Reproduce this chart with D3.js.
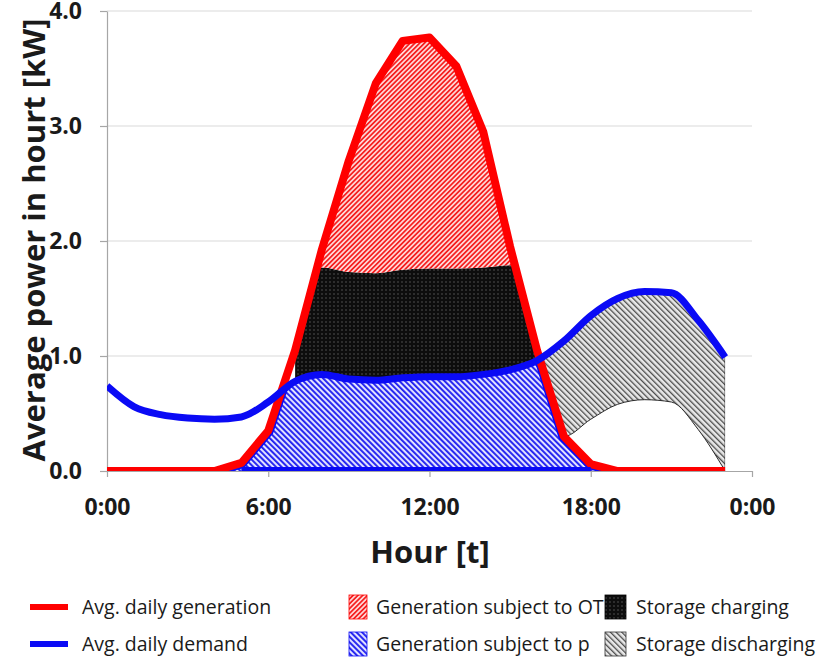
<!DOCTYPE html>
<html>
<head>
<meta charset="utf-8">
<script src="https://cdn.jsdelivr.net/npm/d3@7"></script>
<style>
  html, body { margin: 0; padding: 0; background: #fff; }
  svg { display: block; }
  text { font-family: "Open Sans", "DejaVu Sans", sans-serif; fill: #1a1a1a; }
</style>
</head>
<body>
<svg id="chart" width="830" height="664"></svg>
<script>
// Hour of day for each sample
const hours = [0, 1, 2, 3, 4, 5, 6, 7, 8, 9, 10, 11, 12, 13, 14, 15, 16, 17, 18, 19, 20, 21, 22, 23];
// Average daily PV generation [kW]
const generation = [0, 0, 0, 0, 0, 0.07, 0.35, 1.05, 1.93, 2.70, 3.37, 3.74, 3.77, 3.52, 2.95, 1.95, 1.05, 0.30, 0.06, 0, 0, 0, 0, 0];
// Average daily household demand [kW]
const demand = [0.74, 0.56, 0.49, 0.46, 0.45, 0.47, 0.60, 0.78, 0.84, 0.80, 0.79, 0.81, 0.82, 0.82, 0.84, 0.88, 0.96, 1.13, 1.35, 1.50, 1.56, 1.55, 1.31, 0.99];
// Upper edge of storage charging (above it generation is subject to OT), hours 7-16
const chargeHours = [7, 8, 9, 10, 11, 12, 13, 14, 15, 16];
const chargeTop = [1.77, 1.77, 1.73, 1.72, 1.75, 1.76, 1.76, 1.77, 1.79, 1.79];
// Storage discharge [kW], hours 16-23
const dischargeHours = [16, 17, 18, 19, 20, 21, 22, 23];
const discharge = [0, 0.83, 0.90, 0.92, 0.94, 0.95, 0.95, 0.99];

const yTicks = [0, 1, 2, 3, 4];
const xTicks = [0, 6, 12, 18, 24];
const xTickLabels = ["0:00", "6:00", "12:00", "18:00", "0:00"];

const lineLabels = ["Avg. daily generation", "Avg. daily demand"];
const areaLabels = ["Generation subject to OT", "Generation subject to p", "Storage charging", "Storage discharging"];

const svg = d3.select("#chart");
const x = d3.scaleLinear().domain([0, 24]).range([107, 752]);
const y = d3.scaleLinear().domain([0, 4]).range([471, 11]);

const RED = "#ff0000", BLUE = "#0a0af5";

// ---------- fill patterns ----------
const defs = svg.append("defs");
function stripes(id, angle, period, bg, fg, w) {
  const p = defs.append("pattern").attr("id", id)
    .attr("patternUnits", "userSpaceOnUse").attr("width", period).attr("height", period)
    .attr("patternTransform", `rotate(${angle})`);
  p.append("rect").attr("width", period).attr("height", period).attr("fill", bg);
  p.append("rect").attr("width", w).attr("height", period).attr("fill", fg);
}
stripes("pat-ot", 45, 3.4, "#ffd6d6", "#f52020", 1.7);
stripes("pat-p", -45, 4, "#e2e2ff", "#2020f0", 1.9);
stripes("pat-dis", -45, 4, "#e8e8e8", "#4a4a4a", 1.3);
(function () {
  const p = defs.append("pattern").attr("id", "pat-chg")
    .attr("patternUnits", "userSpaceOnUse").attr("width", 4).attr("height", 4);
  p.append("rect").attr("width", 4).attr("height", 4).attr("fill", "#0d0d0d");
  p.append("rect").attr("x", 1.5).attr("y", 1.5).attr("width", 1).attr("height", 1).attr("fill", "#8a8a8a");
})();

// ---------- geometry helpers ----------
const genPts = hours.map((h, i) => ({ h, v: generation[i] }));
const demPts = hours.map((h, i) => ({ h, v: demand[i] }));
const demAt = h => demand[hours.indexOf(h)];

const genLine = d3.line().x(d => x(d.h)).y(d => y(d.v));
const demLine = d3.line().x(d => x(d.h)).y(d => y(d.v)).curve(d3.curveMonotoneX);

// clip: region under the generation curve, region above it, region under demand, plot box
defs.append("clipPath").attr("id", "under-gen").append("path")
  .attr("d", d3.area().x(d => x(d.h)).y0(y(0)).y1(d => y(d.v))(genPts));
defs.append("clipPath").attr("id", "above-gen").append("path")
  .attr("d", d3.area().x(d => x(d.h)).y0(y(4)).y1(d => y(d.v))(genPts));
defs.append("clipPath").attr("id", "under-dem").append("path")
  .attr("d", d3.area().x(d => x(d.h)).y0(y(0)).y1(d => y(d.v)).curve(d3.curveMonotoneX)(demPts));
defs.append("clipPath").attr("id", "plot-box").append("rect")
  .attr("x", x(0)).attr("y", 0).attr("width", x(24) - x(0)).attr("height", y(0));

// ---------- gridlines & axes ----------
svg.append("g").selectAll("line").data(yTicks.filter(t => t > 0)).join("line")
  .attr("x1", x(0)).attr("x2", x(24)).attr("y1", d => y(d)).attr("y2", d => y(d))
  .attr("stroke", "#d9d9d9").attr("stroke-width", 1.2);

const yAxis = svg.append("g").attr("transform", `translate(${x(0)},0)`)
  .call(d3.axisLeft(y).tickValues(yTicks).tickFormat(d3.format(".1f")).tickSize(7).tickPadding(18).tickSizeOuter(0));
const xAxis = svg.append("g").attr("transform", `translate(0,${y(0)})`)
  .call(d3.axisBottom(x).tickValues(xTicks).tickFormat((d, i) => xTickLabels[i]).tickSize(6).tickPadding(22).tickSizeOuter(0));
[yAxis, xAxis].forEach(g => {
  g.select(".domain").attr("stroke", "#a6a6a6").attr("stroke-width", 1.2);
  g.selectAll(".tick line").attr("stroke", "#a6a6a6").attr("stroke-width", 1.2);
  g.selectAll(".tick text").attr("font-family", "'Open Sans', sans-serif")
    .attr("font-size", 23).attr("font-weight", 700).attr("fill", "#1a1a1a");
});

// ---------- filled regions ----------
const layer = svg.append("g");

// generation subject to p: below demand, limited by generation
layer.append("g").attr("clip-path", "url(#under-gen)")
  .append("path")
  .attr("d", d3.area().x(d => x(d.h)).y0(y(0)).y1(d => y(d.v)).curve(d3.curveMonotoneX)(demPts))
  .attr("fill", "url(#pat-p)");

// storage charging: between demand and the charging edge
const chgPts = chargeHours.map((h, i) => ({ h, lo: demAt(h), hi: chargeTop[i] }));
layer.append("g").attr("clip-path", "url(#under-gen)")
  .append("path")
  .attr("d", d3.area().x(d => x(d.h)).y0(d => y(d.lo)).y1(d => y(d.hi)).curve(d3.curveMonotoneX)(chgPts))
  .attr("fill", "url(#pat-chg)");

// generation subject to OT: above the charging edge
const otPts = chargeHours.map((h, i) => ({ h, lo: chargeTop[i] }));
layer.append("g").attr("clip-path", "url(#under-gen)")
  .append("path")
  .attr("d", d3.area().x(d => x(d.h)).y0(d => y(d.lo)).y1(y(4)).curve(d3.curveMonotoneX)(otPts))
  .attr("fill", "url(#pat-ot)");

// storage discharging: demand minus discharge up to demand
const disPts = dischargeHours.map((h, i) => ({ h, lo: demAt(h) - discharge[i], hi: demAt(h) }));
layer.append("g").attr("clip-path", "url(#above-gen)")
  .append("path")
  .attr("d", d3.area().x(d => x(d.h)).y0(d => y(d.lo)).y1(d => y(d.hi)).curve(d3.curveMonotoneX)(disPts))
  .attr("fill", "url(#pat-dis)").attr("stroke", "#2a2a2a").attr("stroke-width", 1);

// blue rim of the p region along the generation edge
svg.append("g").attr("clip-path", "url(#under-dem)")
  .append("g").attr("clip-path", "url(#under-gen)")
  .append("path").attr("d", genLine(genPts))
  .attr("fill", "none").attr("stroke", BLUE).attr("stroke-width", 11);

// ---------- lines ----------
const lines = svg.append("g").attr("clip-path", "url(#plot-box)");
lines.append("path").attr("d", genLine(genPts))
  .attr("fill", "none").attr("stroke", RED).attr("stroke-width", 8).attr("stroke-linejoin", "round");
// blue baseline under the p region (where generation is non-zero)
const genOn = hours.filter((h, i) => generation[i] > 0);
lines.append("line")
  .attr("x1", x(d3.min(genOn))).attr("x2", x(d3.max(genOn)))
  .attr("y1", y(0)).attr("y2", y(0)).attr("stroke", BLUE).attr("stroke-width", 8);
lines.append("path").attr("d", demLine(demPts))
  .attr("fill", "none").attr("stroke", BLUE).attr("stroke-width", 7).attr("stroke-linejoin", "round");

// ---------- axis titles ----------
svg.append("text").attr("x", 430).attr("y", 563).attr("text-anchor", "middle")
  .attr("font-size", 31).attr("font-weight", 700).text("Hour [t]");
svg.append("text").attr("transform", "translate(45,240) rotate(-90)").attr("text-anchor", "middle")
  .attr("font-size", 31).attr("font-weight", 700).text("Average power in hourt [kW]");

// ---------- legend ----------
const lg = svg.append("g").attr("font-size", 19.5);
const rowY = [607, 644];
lineLabels.forEach((t, i) => {
  lg.append("line").attr("x1", 30).attr("x2", 68).attr("y1", rowY[i]).attr("y2", rowY[i])
    .attr("stroke", [RED, BLUE][i]).attr("stroke-width", 6);
  lg.append("text").attr("x", 82).attr("y", rowY[i]).attr("dy", "0.35em").text(t);
});
const boxes = [
  { col: 0, row: 0, fill: "url(#pat-ot)", stroke: RED },
  { col: 0, row: 1, fill: "url(#pat-p)", stroke: BLUE },
  { col: 1, row: 0, fill: "url(#pat-chg)", stroke: "#000" },
  { col: 1, row: 1, fill: "url(#pat-dis)", stroke: "#333" }
];
const boxX = [349, 605], boxW = [18, 21], textX = [376, 636];
boxes.forEach((b, i) => {
  lg.append("rect").attr("x", boxX[b.col]).attr("y", rowY[b.row] - 12).attr("width", boxW[b.col]).attr("height", 24)
    .attr("fill", b.fill).attr("stroke", b.stroke).attr("stroke-width", 0.8);
  lg.append("text").attr("x", textX[b.col]).attr("y", rowY[b.row]).attr("dy", "0.35em").text(areaLabels[i]);
});
</script>
</body>
</html>
